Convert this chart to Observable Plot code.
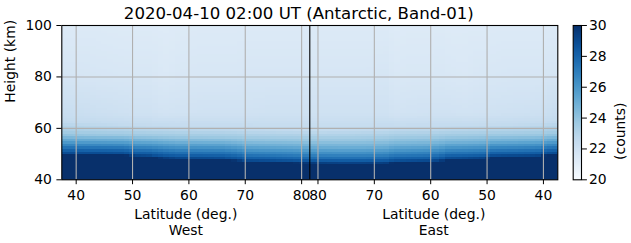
<!DOCTYPE html>
<html><head><meta charset="utf-8">
<script src="https://cdn.jsdelivr.net/npm/d3@7"></script>
<script src="https://cdn.jsdelivr.net/npm/@observablehq/plot@0.6"></script>
<style>
html,body{margin:0;padding:0;background:#fff;}
#wrap{position:relative;width:631px;height:243px;}
#wrap svg{position:absolute;left:0;top:0;}
</style></head><body><div id="wrap"></div>
<script>
const title = "2020-04-10 02:00 UT (Antarctic, Band-01)";
// sample columns along the track: West half (equatorward -> pole), then East half (pole -> equatorward)
const westLat = [37.45, 40, 44, 48.5, 50.5, 53, 55.5, 58, 62, 66, 68.5, 70, 74, 78, 81.45];
const eastLat = [80, 76, 72, 68, 66.5, 64, 60, 58.5, 57, 54, 50.5, 49, 45, 41, 39.5, 37.45];
// heights (km) at which the counts reach each level, per column (West then East)
const levelCounts = [30, 28.75, 27.5, 26.25, 25, 23.75, 22.5];
const h30   = [49.7,49.7,49.7,49.6,48.9,48.8,48.2,47.9,47.8,47.7,47.3,46.8,46.7,46.5,46.2, 46.1,46.0,46.0,46.1,46.6,46.7,46.8,46.9,47.7,47.8,48.0,48.7,48.8,48.9,49.6,49.7];
const h2875 = [50.6,50.6,50.6,50.5,49.8,49.7,49.1,48.8,48.7,48.6,48.2,47.7,47.6,47.4,47.1, 47.0,46.9,46.9,47.0,47.5,47.6,47.7,47.8,48.6,48.7,48.9,49.6,49.7,49.8,50.5,50.6];
const h275  = [52.4,52.4,52.3,52.2,51.6,51.5,51.0,50.6,50.5,50.4,50.0,49.5,49.3,49.0,48.7, 48.6,48.5,48.5,48.7,49.2,49.3,49.5,49.6,50.3,50.4,50.6,51.3,51.4,51.6,52.2,52.4];
const h2625 = [54.1,54.0,53.9,53.8,53.3,53.2,52.8,52.5,52.4,52.3,51.9,51.4,51.2,51.0,50.7, 50.6,50.5,50.5,50.7,51.2,51.3,51.5,51.6,52.2,52.3,52.5,53.1,53.2,53.4,53.9,54.1];
const h25   = [55.9,55.8,55.7,55.6,55.2,55.1,54.8,54.5,54.4,54.3,53.9,53.5,53.3,53.1,52.8, 52.7,52.6,52.6,52.8,53.3,53.4,53.6,53.7,54.2,54.3,54.5,55.0,55.1,55.3,55.7,55.9];
const h2375 = [58.0,57.8,57.6,57.5,57.2,57.1,56.9,56.7,56.6,56.5,56.3,56.0,55.9,55.8,55.6, 55.6,55.6,55.7,55.9,56.3,56.4,56.5,56.6,56.9,57.0,57.2,57.4,57.5,57.6,57.8,58.0];
const h225  = [63.0,62.5,62.0,61.5,61.2,61.0,60.8,60.6,60.5,60.4,60.2,60.0,59.8,59.6,59.5, 59.5,59.6,59.8,60.0,60.3,60.4,60.5,60.6,60.8,60.9,61.1,61.3,61.6,62.0,62.5,63.0];
// counts at fixed heights
const countsAt40  = 33;
const countsAt66  = [22.3,22.25,22.15,22.05,22.0,22.0,21.85,21.9,21.95,21.95,21.95,21.95,22.0,22.0,22.0, 22.0,22.0,22.0,22.0,21.85,21.9,21.95,21.95,21.95,21.9,21.95,22.0,22.05,22.1,22.2,22.3];
const countsAt80  = [21.7,21.7,21.65,21.6,21.6,21.6,21.45,21.55,21.6,21.6,21.6,21.65,21.65,21.65,21.65, 21.65,21.65,21.65,21.7,21.5,21.55,21.55,21.6,21.55,21.5,21.6,21.6,21.65,21.65,21.7,21.7];
const countsAt100 = [21.35,21.35,21.35,21.3,21.3,21.3,21.25,21.3,21.35,21.35,21.35,21.35,21.35,21.35,21.35, 21.35,21.35,21.35,21.35,21.25,21.3,21.3,21.35,21.3,21.3,21.3,21.35,21.35,21.35,21.35,21.35];
const latTicks = [40, 50, 60, 70, 80];
const heightTicks = [40, 60, 80, 100];
const countTicks = [20, 22, 24, 26, 28, 30];

const poleLat = 81.45, edgeLat = 37.45;
const half = poleLat - edgeLat;
const uW = lat => lat - edgeLat;
const uE = lat => half + (poleLat - lat);
const colU = [...westLat.map(uW), ...eastLat.map(uE)];
const levelH = [h30, h2875, h275, h2625, h25, h2375, h225];
const samples = [];
colU.forEach((u, i) => {
  samples.push({u, h: 40, v: countsAt40});
  levelH.forEach((arr, k) => samples.push({u, h: arr[i], v: levelCounts[k]}));
  samples.push({u, h: 66, v: countsAt66[i]}, {u, h: 80, v: countsAt80[i]}, {u, h: 100, v: countsAt100[i]});
});
const tickU = [...latTicks.map(uW), ...latTicks.map(uE)];
const tickLabels = [...latTicks, ...latTicks].map(String);
const labelByU = new Map(tickU.map((u, i) => [u, tickLabels[i]]));

const colorOpts = {type: "linear", scheme: "blues", domain: [20, 30], clamp: true};
const style = {fontFamily: "DejaVu Sans", fontSize: "13.9px", background: "transparent", color: "black"};

const main = Plot.plot({
  width: 631, height: 243,
  marginLeft: 61.3, marginRight: 73.7, marginTop: 25, marginBottom: 63.7,
  style,
  x: {domain: [0, 2 * half], axis: null},
  y: {domain: [40, 100], axis: null},
  color: colorOpts,
  marks: [
    Plot.raster(samples, {x: "u", y: "h", fill: "v", interpolate: "barycentric",
      x1: 0, x2: 2 * half, y1: 40, y2: 100, width: 88, height: 60, imageRendering: "pixelated"}),
    Plot.ruleX(tickU, {stroke: "#b0b0b0", strokeWidth: 1.1}),
    Plot.ruleY([60, 80], {stroke: "#b0b0b0", strokeWidth: 1.1}),
    Plot.ruleX([half], {stroke: "black", strokeWidth: 1.1}),
    Plot.frame({stroke: "black", strokeWidth: 1.1}),
    Plot.axisX(tickU, {tickSize: 4.9, tickPadding: 5.5, tickFormat: d => labelByU.get(d), label: null}),
    Plot.axisY(heightTicks, {tickSize: 4.9, tickPadding: 5, label: null}),
    Plot.text(["Latitude (deg.)", "Latitude (deg.)"], {x: [half / 2, 1.5 * half], frameAnchor: "bottom", dy: 35.2, lineAnchor: "middle"}),
    Plot.text(["West", "East"], {x: [half / 2, 1.5 * half], frameAnchor: "bottom", dy: 51.2, lineAnchor: "middle"}),
    Plot.text([title], {frameAnchor: "top", dx: -11, dy: -12, fontSize: 16.6, lineAnchor: "middle"}),
    Plot.text(["Height (km)"], {frameAnchor: "left", dx: -50.8, rotate: -90, lineAnchor: "middle"})
  ]
});

const cbar = Plot.plot({
  width: 631, height: 243,
  marginLeft: 572.7, marginRight: 50, marginTop: 25, marginBottom: 63.7,
  style,
  x: {domain: [0, 1], axis: null},
  y: {domain: [20, 30], axis: null},
  color: colorOpts,
  marks: [
    Plot.raster({fill: (x, y) => y, x1: 0, x2: 1, y1: 20, y2: 30, width: 2, height: 300}),
    Plot.frame({stroke: "black", strokeWidth: 1.1}),
    Plot.axisY(countTicks, {anchor: "right", tickSize: 4.9, tickPadding: 2.5, label: null}),
    Plot.text(["(counts)"], {frameAnchor: "right", dx: 39.5, rotate: -90, lineAnchor: "middle"})
  ]
});

const wrap = document.getElementById("wrap");
wrap.append(main, cbar);
</script></body></html>
